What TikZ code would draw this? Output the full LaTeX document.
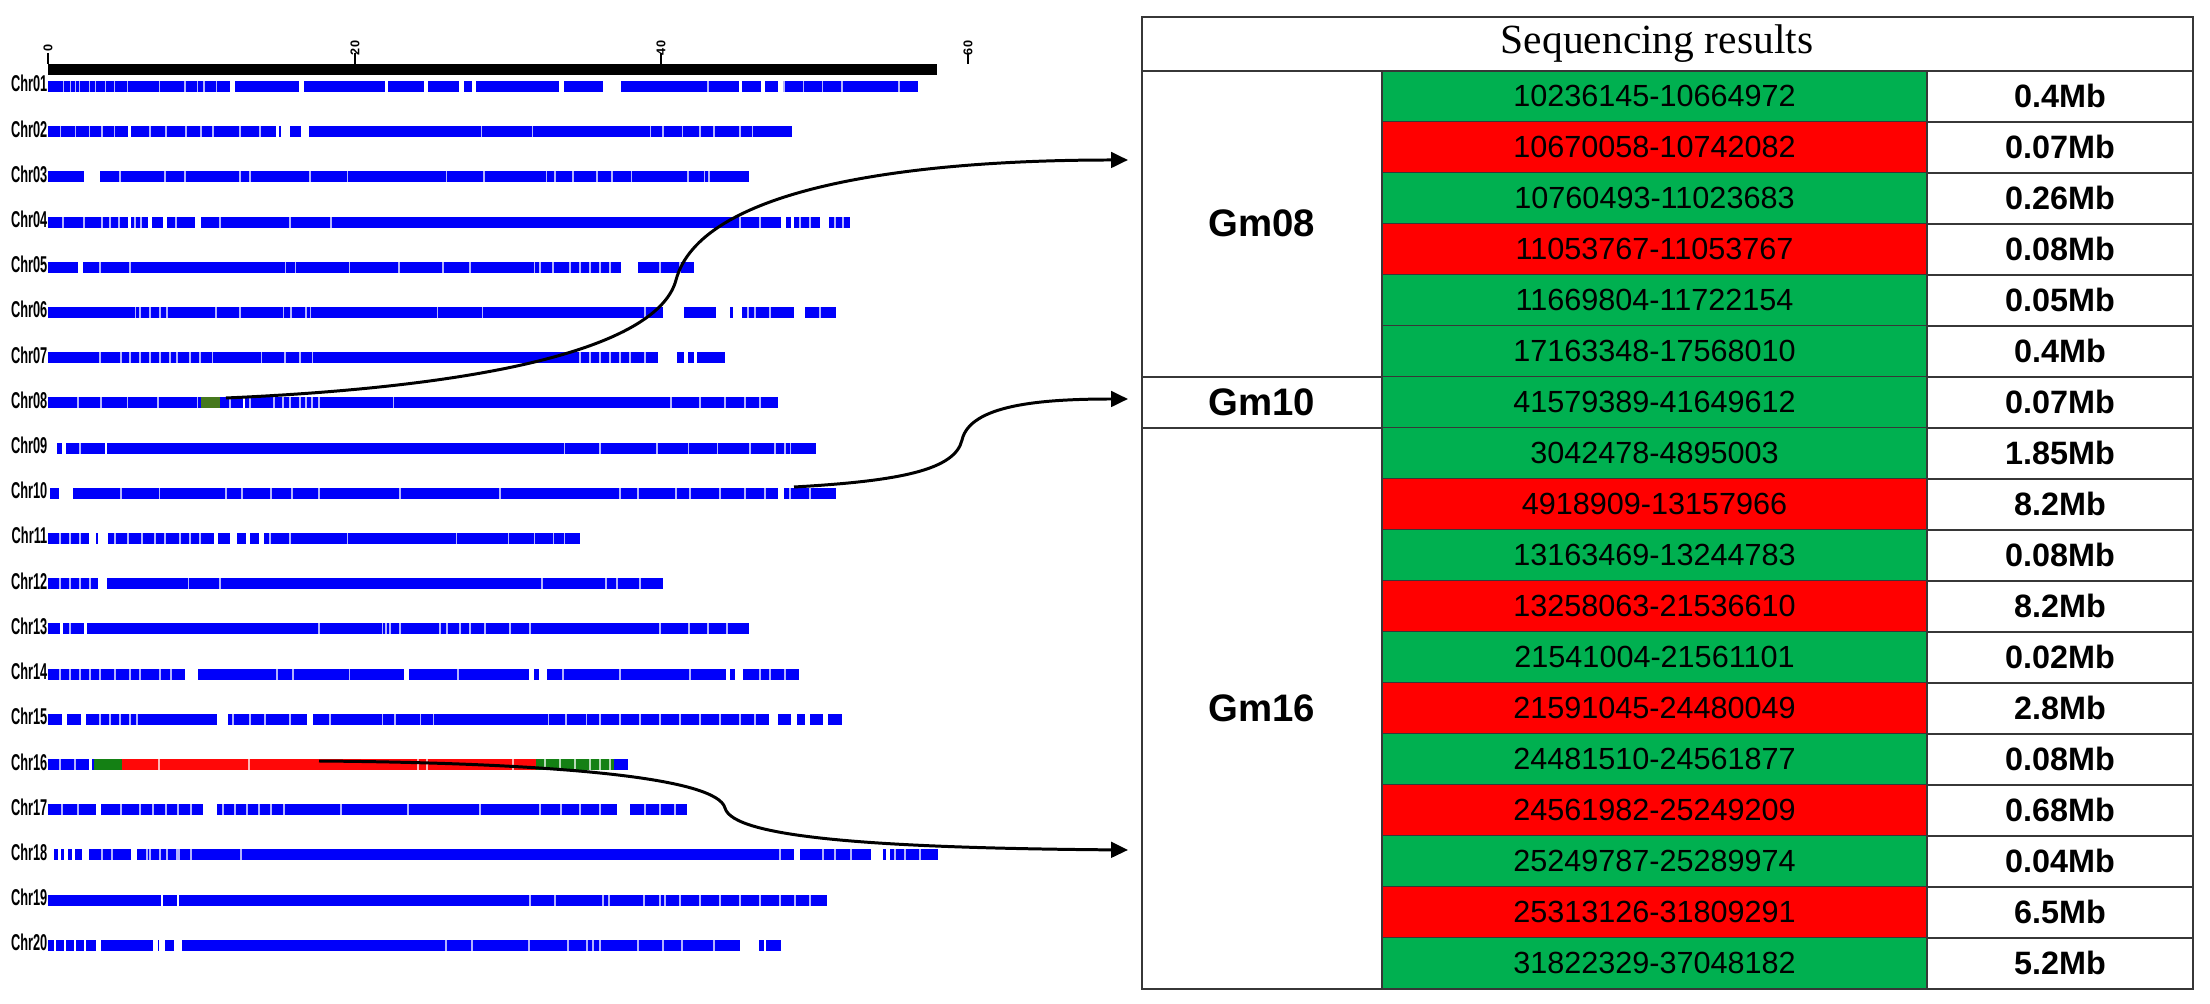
\documentclass[tikz,border=0pt]{standalone}
\usepackage{fontspec}
\setmainfont{Liberation Sans}
\newfontfamily\headfont{Liberation Serif}
\newfontfamily\chrfont[FakeStretch=0.56]{Liberation Sans}
\usetikzlibrary{arrows.meta, positioning, calc}
\usepackage{xcolor}

\definecolor{chrblue}{RGB}{0,0,250}
\definecolor{cellgreen}{RGB}{0,176,80}
\definecolor{cellred}{RGB}{255,0,0}
\definecolor{seggreen}{RGB}{20,128,20}
\definecolor{segred}{RGB}{255,8,8}
\definecolor{patchgreen}{RGB}{70,120,30}
\definecolor{gridgray}{RGB}{55,55,55}

\tikzset{
  chrlabel/.style={font=\chrfont\bfseries\fontsize{6.5}{7}\selectfont, anchor=base east, inner sep=0pt},
  ticklbl/.style={font=\bfseries\fontsize{3.6}{4}\selectfont, rotate=90, inner sep=0pt},
  rangetxt/.style={font=\fontsize{8.7}{10}\selectfont},
  sizetxt/.style={font=\bfseries\fontsize{9.2}{11}\selectfont},
  gmtxt/.style={font=\bfseries\fontsize{10.9}{13}\selectfont},
  headtxt/.style={font=\headfont\fontsize{11.8}{14}\selectfont},
  thinline/.style={white, opacity=0.7, line width=0.3pt},
  gridline/.style={draw=gridgray, line width=0.6pt},
  link/.style={line width=0.85pt, -{Triangle[length=4.8pt,width=4.4pt]}}
}

% one chromosome: index, start, end, gaps, thin lines
\newcommand{\chrbar}[5]{%
  \pgfmathsetmacro{\cy}{86.5+45.2*(#1-1)}%
  \node[chrlabel] (chr#1) at (48,\cy+5.5) {Chr\ifnum#1<10 0\fi#1};%
  \fill[chrblue] (#2,\cy-5.5) rectangle (#3,\cy+5.5);%
  \foreach \ga/\gb in {#4} {\fill[white] (\ga,\cy-6.5) rectangle (\gb,\cy+6.5);}%
  \foreach \gx in {#5} {\draw[thinline] (\gx,\cy-5.5) -- (\gx,\cy+5.5);}%
}

\begin{document}
\begin{tikzpicture}[x=0.01cm, y=-0.01cm, every node/.style={inner sep=0pt}]
  % adjustable parameters
  \def\rowh{51}     % table row height
  \def\tabtop{70.7} % top of first data row
  \def\xa{1142}     % table left
  \def\xb{1382}     % range column
  \def\xc{1927}     % size column
  \def\xd{2193}     % table right

  \fill[white] (0,0) rectangle (2210,1004);

  % scale bar
  \fill[black] (48,64.3) rectangle (937,75);
  \foreach \tx/\tl in {48/0, 355/20, 661/40, 968/60} {
    \draw[line width=0.4pt] (\tx,53) -- (\tx,64.3);
    \node[ticklbl] (tick\tl) at (\tx,48) {\tl};
  }

  % chromosomes
  \chrbar{1}{48}{918}{229.6/234.7, 298.5/303.6, 384.6/387.8, 423.5/428, 459/464, 472/476, 558.7/564.4, 603.3/620.5, 738.5/741.7, 760.8/764.6, 778/783}
    {63.8,70.2,75.3,79.7,89.3,95.7,105.2,114.8,127.6,159.4,185,197.7,204,216.8,708,784,803.6,822.7,842,899}
  \chrbar{2}{48}{792}{127.6/130.7, 275.5/278.7, 281/290, 301/308.7}
    {60.6,75.3,89.3,102,114.8,150,166,186,201,213,240,260,481.5,532.5,650.5,663,682.4,700,714,740,752.5}
  \chrbar{3}{48}{749}{84/100}
    {120,165,185,240,250,310,347.6,446.4,484,546.6,555,573,597,612,631.4,688,704.7,709}
  \chrbar{4}{48}{850}{127.6/130.7, 148/151.8, 162.6/167, 194.5/201, 780.6/786.4, 791/794, 819.6/829}
    {63,84,102,110,119,135,141,176,220,290,331,740,760,800,810,835,843}
  \chrbar{5}{48}{694}{77.8/82.9, 620.5/638.4}
    {100,130,285.7,295.3,349.5,399,443,470,534.4,540,553,570,580,590,600,610,660,680}
  \chrbar{6}{48}{835.5}{663.3/684.3, 715.6/730.2, 733.4/741.7, 794/805}
    {135.2,140,150,160,167,216,240,283.8,291,306,310.6,437.5,482.8,645,748,755,770,820}
  \chrbar{7}{48}{725}{658/677.3, 683.7/687.5, 694/697}
    {100,121,130,140,150,160,170,177,190,200,212.4,261.5,285,300,312.5,580,590,600,610,620,630,645}
  \chrbar{8}{48}{778}{243/244.5}
    {78,101,127.6,158,197.7,230,250,274,283,290,300,306,312,319,393.5,671,700,725,745,760}
  \chrbar{9}{57.4}{816}{61.9/65.7, 105.2/107.1}
    {80,564.4,600,657,688.8,717.5,750,775,785,790.8}
  \chrbar{10}{49.7}{835.5}{58.7/73.3, 778/784.4}
    {121,159.4,226,242,271,292,319,400,500,620,638,676,690,720,745,765,790,810}
  \chrbar{11}{48}{580}{89/96, 98/108.4, 214.3/218.1, 229.6/237.2, 245.5/250, 259/264}
    {60,70,80,115,128,142,155,165,180,190,200,270,290,347.6,456.6,508.3,534.4,553.6,564.4}
  \chrbar{12}{48}{663}{97.6/107.1}
    {60,70,80,90,188.8,220,542,606,617,640}
  \chrbar{13}{48}{749.4}{60/63, 84/87}
    {70,319,382.6,386,390,400,440,447,460,470,485,510,530,660,689,708,727}
  \chrbar{14}{48}{798.5}{185/197.7, 403.7/409.4, 529.3/534.4, 539/546.6, 725.8/730.2, 734.7/743}
    {60,70,80,90,100,115,130,140,160,171,277,293,349.5,458,563,620,690,760,770,785}
  \chrbar{15}{48}{841.8}{61.9/67, 81/86, 216.8/228.3, 307.4/312.5, 768.5/778, 790.8/797.2, 805/810, 822.7/827.8}
    {100,110,120,130,137,233,250,265,290,330,382.6,395,420.9,433.7,548.5,566,586.7,600,620,640,660,680,700,720,740,755}
  \chrbar{16}{48}{628}{89/91.5}
    {60,75}
  \chrbar{17}{48}{687}{95.7/100.8, 202.8/216.8, 617.3/630.1}
    {62,78,121,140,153,166,178,191,223,235,247,259,271,284,341,408,480,540,561,580,600,645,660,675}
  \chrbar{18}{54}{937.5}{58/61, 64/67.5, 72/75, 81.6/89.3, 130.7/137, 794/800.4, 870.5/883.3, 885.8/889.7}
    {102,112,147,150,160,167,177,179,191,241,780,823,835,851,895,905,920}
  \chrbar{19}{48}{826.5}{161.4/163, 176.5/178.5}
    {530,555,603,609,644,660,665,680,700,720,740,760,780,795,810}
  \chrbar{20}{48}{781}{54/56, 64/66, 74/76, 84/86, 95.7/100.8, 153/157.5, 159.4/164.5, 173.5/181.8, 739.8/758.9, 764/766}
    {446,472,529,568,587,593,600,638,663,682,714}

  % Chr08 patch
  \fill[patchgreen] (201,397.4) rectangle (220,408.4);
  % Chr16 segments
  \fill[seggreen] (94,759) rectangle (122,770);
  \fill[segred] (122,759) rectangle (536,770);
  \fill[seggreen] (536,759) rectangle (614,770);
  \foreach \gx in {159,249,418,427,513,545,560,575,590,600,610} {
    \draw[thinline] (\gx,759) -- (\gx,770);
  }

  % table: header
  \node[headtxt] (head) at (1657,44) {Sequencing results};

  % table: rows
  \foreach \i/\rng/\sz/\c in {
      1/10236145-10664972/0.4Mb/cellgreen,
      2/10670058-10742082/0.07Mb/cellred,
      3/10760493-11023683/0.26Mb/cellgreen,
      4/11053767-11053767/0.08Mb/cellred,
      5/11669804-11722154/0.05Mb/cellgreen,
      6/17163348-17568010/0.4Mb/cellgreen,
      7/41579389-41649612/0.07Mb/cellgreen,
      8/3042478-4895003/1.85Mb/cellgreen,
      9/4918909-13157966/8.2Mb/cellred,
      10/13163469-13244783/0.08Mb/cellgreen,
      11/13258063-21536610/8.2Mb/cellred,
      12/21541004-21561101/0.02Mb/cellgreen,
      13/21591045-24480049/2.8Mb/cellred,
      14/24481510-24561877/0.08Mb/cellgreen,
      15/24561982-25249209/0.68Mb/cellred,
      16/25249787-25289974/0.04Mb/cellgreen,
      17/25313126-31809291/6.5Mb/cellred,
      18/31822329-37048182/5.2Mb/cellgreen} {
    \pgfmathsetmacro{\ytop}{\tabtop+\rowh*(\i-1)}
    \pgfmathsetmacro{\ybot}{\ytop+\rowh}
    \pgfmathsetmacro{\ymid}{\ytop+\rowh/2}
    \fill[\c] (\xb,\ytop) rectangle (\xc,\ybot);
    \node[rangetxt] (rng\i) at (1654.5,\ymid) {\rng};
    \node[sizetxt] (size\i) at (2060,\ymid) {\sz};
    \draw[gridline] (\xb,\ybot) -- (\xd,\ybot);
  }

  % table: group labels
  \node[gmtxt] (gm08) at (1262,223.7) {Gm08};
  \node[gmtxt] (gm10) at (1262,402.2) {Gm10};
  \node[gmtxt] (gm16) at (1262,708.2) {Gm16};

  % table: frame
  \draw[gridline] (\xa,17.3) rectangle (\xd,988.7);
  \draw[gridline] (\xa,\tabtop) -- (\xd,\tabtop);
  \draw[gridline] (\xa,376.7) -- (\xb,376.7);
  \draw[gridline] (\xa,427.7) -- (\xb,427.7);
  \draw[gridline] (\xb,\tabtop) -- (\xb,988.7);
  \draw[gridline] (\xc,\tabtop) -- (\xc,988.7);

  % links
  \coordinate (s08) at (226,398);
  \coordinate (k08) at (676,280);
  \coordinate (t08) at (1128,160);
  \coordinate (s10) at (794,487);
  \coordinate (k10) at (962,440);
  \coordinate (t10) at (1128,399);
  \coordinate (s16) at (319,761);
  \coordinate (k16) at (725,808);
  \coordinate (t16) at (1128,850);

  \draw[link] (s08) .. controls (520,385) and (660,340) .. (k08)
    .. controls (700,190) and (900,160) .. (t08);
  \draw[link] (s10) .. controls (900,481) and (955,470) .. (k10)
    .. controls (970,405) and (1040,399) .. (t10);
  \draw[link] (s16) .. controls (560,763) and (717,778) .. (k16)
    .. controls (733,838) and (880,848) .. (t16);

\end{tikzpicture}
\end{document}
